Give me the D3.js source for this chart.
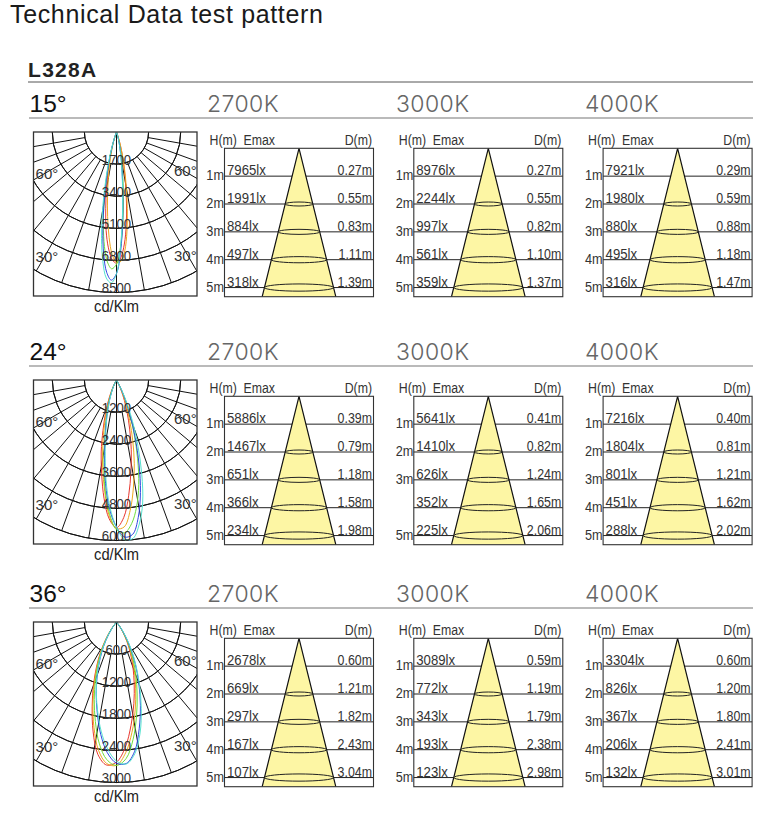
<!DOCTYPE html>
<html>
<head>
<meta charset="utf-8">
<title>Technical Data test pattern</title>
<script src="https://cdn.jsdelivr.net/npm/d3@7"></script>
<style>
    body { margin: 0; background: #fff; }
    svg { display: block; font-family: "Liberation Sans", Arial, sans-serif; }
</style>
</head>
<body>
<div id="chart"></div>
<script>
const colorTemps = ["2700K", "3000K", "4000K"];
const heights = [1, 2, 3, 4, 5];

// Emax (lx) and D (m) per colour temperature
const emax15 = [[7965, 1991, 884, 497, 318], [8976, 2244, 997, 561, 359], [7921, 1980, 880, 495, 316]];
const dist15 = [["0.27", "0.55", "0.83", "1.11", "1.39"], ["0.27", "0.55", "0.82", "1.10", "1.37"], ["0.29", "0.59", "0.88", "1.18", "1.47"]];
const emax24 = [[5886, 1467, 651, 366, 234], [5641, 1410, 626, 352, 225], [7216, 1804, 801, 451, 288]];
const dist24 = [["0.39", "0.79", "1.18", "1.58", "1.98"], ["0.41", "0.82", "1.24", "1.65", "2.06"], ["0.40", "0.81", "1.21", "1.62", "2.02"]];
const emax36 = [[2678, 669, 297, 167, 107], [3089, 772, 343, 193, 123], [3304, 826, 367, 206, 132]];
const dist36 = [["0.60", "1.21", "1.82", "2.43", "3.04"], ["0.59", "1.19", "1.79", "2.38", "2.98"], ["0.60", "1.20", "1.80", "2.41", "3.01"]];

// polar curves, cd/klm
const angles15 = [-20, -18, -16, -14, -12, -10, -8, -6, -4, -2, 0, 2, 4, 6, 8, 10, 12, 14, 16, 18, 20];
const red15 = [0, 420, 850, 1400, 2150, 3050, 4100, 5250, 6150, 6750, 6950, 6650, 5950, 4950, 3800, 2750, 1950, 1250, 750, 360, 0];
const orange15 = [0, 350, 700, 1150, 1750, 2500, 3400, 4500, 5600, 6500, 6900, 6850, 6300, 5300, 4100, 3000, 2100, 1350, 800, 380, 0];
const green15 = [0, 480, 1000, 1700, 2650, 3800, 5000, 6100, 6900, 7250, 7000, 6100, 4800, 3500, 2400, 1600, 1050, 650, 350, 150, 0];
const blue15 = [0, 450, 950, 1650, 2600, 3800, 5200, 6500, 7450, 7850, 7500, 6300, 4700, 3200, 2150, 1400, 900, 550, 300, 130, 0];
const cyan15 = [0, 520, 1100, 1900, 2950, 4300, 5700, 6900, 7750, 8000, 7500, 6100, 4500, 3100, 2050, 1350, 850, 520, 280, 120, 0];

const angles24 = [-30, -27, -24, -21, -18, -15, -12, -9, -6, -3, 0, 3, 6, 9, 12, 15, 18, 21, 24, 27, 30];
const red24 = [0, 220, 500, 880, 1350, 1950, 2750, 3550, 4450, 5200, 5520, 5150, 4350, 3450, 2650, 1900, 1300, 820, 460, 200, 0];
const orange24 = [0, 190, 440, 780, 1200, 1750, 2450, 3300, 4200, 5100, 5550, 5500, 4900, 4050, 3200, 2350, 1600, 1000, 560, 240, 0];
const green24 = [0, 170, 380, 650, 1000, 1450, 2050, 3000, 4100, 5000, 5600, 5720, 5400, 4800, 4000, 3050, 2150, 1400, 800, 350, 0];
const blue24 = [0, 150, 340, 600, 950, 1400, 2000, 2850, 3900, 4850, 5500, 5880, 5800, 5200, 4300, 3250, 2250, 1450, 820, 350, 0];
const cyan24 = [0, 140, 320, 570, 900, 1350, 1900, 2700, 3750, 4750, 5500, 5980, 5950, 5450, 4700, 3650, 2600, 1700, 1000, 450, 0];

const angles36 = [-40, -36, -32, -28, -24, -20, -16, -12, -8, -4, 0, 4, 8, 12, 16, 20, 24, 28, 32, 36, 40];
const red36 = [0, 160, 370, 630, 920, 1260, 1650, 2100, 2500, 2680, 2620, 2350, 1950, 1560, 1200, 900, 640, 420, 230, 90, 0];
const orange36 = [0, 150, 350, 600, 880, 1210, 1600, 2020, 2420, 2650, 2680, 2450, 2080, 1680, 1300, 980, 700, 460, 250, 100, 0];
const green36 = [0, 140, 330, 570, 840, 1150, 1510, 1900, 2300, 2580, 2680, 2560, 2220, 1800, 1400, 1060, 760, 500, 270, 110, 0];
const blue36 = [0, 120, 290, 510, 760, 1050, 1380, 1730, 2120, 2450, 2640, 2650, 2440, 2040, 1620, 1220, 870, 570, 310, 120, 0];
const cyan36 = [0, 120, 300, 530, 780, 1060, 1370, 1700, 2060, 2380, 2600, 2660, 2480, 2120, 1680, 1260, 900, 600, 340, 140, 0];

const ticks15 = [1700, 3400, 5100, 6800, 8500];
const ticks24 = [1200, 2400, 3600, 4800, 6000];
const ticks36 = [600, 1200, 1800, 2400, 3000];

const curveColors = ["#e8372f", "#eda91f", "#6fdf3c", "#2f45e0", "#55e2cf"];

const sections = [
    { label: "15°", offset: 0, angles: angles15, curves: [red15, orange15, green15, blue15, cyan15], ticks: ticks15, emax: emax15, dist: dist15 },
    { label: "24°", offset: 248, angles: angles24, curves: [red24, orange24, green24, blue24, cyan24], ticks: ticks24, emax: emax24, dist: dist24 },
    { label: "36°", offset: 490, angles: angles36, curves: [red36, orange36, green36, blue36, cyan36], ticks: ticks36, emax: emax36, dist: dist36 }
];

const gridAngles = d3.range(-80, 81, 10);

const svg = d3.select("#chart").append("svg").attr("width", 784).attr("height", 821);

svg.append("text").attr("x", 10).attr("y", 23).attr("font-size", 25).attr("letter-spacing", 0.65).attr("fill", "#1a1a1a")
    .text("Technical Data test pattern");
svg.append("text").attr("x", 28).attr("y", 77).attr("font-size", 21).attr("font-weight", "bold")
    .attr("letter-spacing", 1.3).attr("fill", "#222")
    .text("L328A");
svg.append("line").attr("x1", 28).attr("x2", 753).attr("y1", 82).attr("y2", 82).attr("stroke", "#555").attr("stroke-width", 1);

const angleScale = d3.scaleLinear().domain([0, 180]).range([Math.PI, 0]);

// no condensed font installed, so the small labels are squeezed sideways
function squeeze(x, y, factor) {
    return `translate(${x},${y}) scale(${factor},1)`;
}

function drawPolar(g, section, index) {
    const box = { x: 33.5, y: 132, width: 163.5, height: 164 };
    const cx = box.x + 83;
    const radius = d3.scaleLinear().domain([0, section.ticks[4]]).range([0, 160.5]);
    const polar = g.append("g").attr("transform", `translate(${cx},${box.y})`);

    const clipId = "polar-clip-" + index;
    g.append("clipPath").attr("id", clipId).append("rect")
        .attr("x", box.x - cx).attr("y", 0).attr("width", box.width).attr("height", box.height);

    const grid = polar.append("g").attr("clip-path", `url(#${clipId})`);

    const arc = d3.arc().startAngle(Math.PI / 2).endAngle(3 * Math.PI / 2);
    grid.selectAll(".ring").data(section.ticks).enter().append("path")
        .attr("d", d => arc({ innerRadius: radius(d), outerRadius: radius(d) }))
        .attr("fill", "none").attr("stroke", "#111").attr("stroke-width", 1);

    grid.selectAll(".spoke").data(gridAngles).enter().append("line")
        .attr("x1", d => d === 0 ? 0 : radius(section.ticks[0]) * Math.sin(d * Math.PI / 180))
        .attr("y1", d => d === 0 ? 0 : radius(section.ticks[0]) * Math.cos(d * Math.PI / 180))
        .attr("x2", d => radius(section.ticks[4]) * Math.sin(d * Math.PI / 180))
        .attr("y2", d => radius(section.ticks[4]) * Math.cos(d * Math.PI / 180))
        .attr("stroke", "#111").attr("stroke-width", 1);

    const line = d3.lineRadial()
        .angle((d, i) => angleScale(section.angles[i]))
        .radius(d => radius(d))
        .curve(d3.curveCatmullRom);

    section.curves.forEach((curve, i) => {
        polar.append("path").datum(curve)
            .attr("d", line)
            .attr("fill", "none")
            .attr("stroke", curveColors[i])
            .attr("stroke-width", 1);
    });

    g.append("rect").attr("x", box.x).attr("y", box.y).attr("width", box.width).attr("height", box.height)
        .attr("fill", "none").attr("stroke", "#333").attr("stroke-width", 1.3);

    polar.selectAll(".tick-label").data(section.ticks).enter().append("text")
        .attr("transform", d => squeeze(0, radius(d) + 0.5, 0.85))
        .attr("text-anchor", "middle").attr("font-size", 15.5).attr("fill", "#333")
        .text(d => d);

    const angleLabels = [[35.6, 47, "60°"], [174, 44, "60°"], [35.6, 129.5, "30°"], [174, 129, "30°"]];
    angleLabels.forEach(l => {
        g.append("text").attr("x", l[0]).attr("y", box.y + l[1]).attr("font-size", 15).attr("fill", "#333").text(l[2]);
    });

    g.append("text").attr("transform", squeeze(cx, 312, 0.92)).attr("text-anchor", "middle")
        .attr("font-size", 16).attr("fill", "#222").text("cd/Klm");
}

function drawCone(g, section, col) {
    const left = 224.5 + col * 189.3;
    const width = 149;
    const top = 148.3;
    const bottom = 296.7;
    const y = d3.scaleLinear().domain([0, 1]).range([top, top + 27.85]);
    const spread = d3.scaleLinear().domain([top, bottom]).range([0, 36.8]);
    const mid = left + 74.5;
    const ellipseRy = d3.scaleLinear().domain([2, 5]).range([2, 3.6]);
    const isGap = section.label === "24°" && col === 1;

    const header = [[left - 15, "start", "H(m)"], [left + 19, "start", "Emax"], [left + 147.5, "end", "D(m)"]];
    header.forEach(h => {
        g.append("text").attr("transform", squeeze(h[0], 144.5, 0.85)).attr("text-anchor", h[1])
            .attr("font-size", 14.5).attr("fill", "#333").text(h[2]);
    });

    g.selectAll(null).data(heights).enter().append("line")
        .attr("x1", left).attr("x2", left + width)
        .attr("y1", d => y(d)).attr("y2", d => y(d))
        .attr("stroke", "#222").attr("stroke-width", 1);

    g.append("path")
        .attr("d", d3.line()([[mid, top], [mid + spread(bottom), bottom], [mid - spread(bottom), bottom]]))
        .attr("fill", "#fdf6a4").attr("stroke", "none");

    g.append("path")
        .attr("d", d3.line()([[mid - spread(bottom), bottom], [mid, top], [mid + spread(bottom), bottom]]))
        .attr("fill", "none").attr("stroke", "#111").attr("stroke-width", 1.2);

    g.selectAll(null).data(heights.slice(1)).enter().append("ellipse")
        .attr("cx", mid).attr("cy", d => y(d))
        .attr("rx", d => spread(y(d)))
        .attr("ry", d => ellipseRy(d))
        .attr("fill", "none").attr("stroke", "#222").attr("stroke-width", 1);

    g.append("rect").attr("x", left).attr("y", top).attr("width", width).attr("height", bottom - top)
        .attr("fill", "none").attr("stroke", "#333").attr("stroke-width", 1.1);

    // the 3000K table of the 24° block has no 4m label
    g.selectAll(null).data(heights.filter(h => !(isGap && h === 4))).enter().append("text")
        .attr("transform", d => squeeze(left - 0.5, y(d) + 4, 0.82))
        .attr("text-anchor", "end").attr("font-size", 15.5).attr("fill", "#333")
        .text(d => d + "m");

    g.selectAll(null).data(section.emax[col]).enter().append("text")
        .attr("transform", (d, i) => squeeze(left + 2.5, y(heights[i]) - 1, 0.85))
        .attr("font-size", 15.5).attr("fill", "#333")
        .text(d => d + "lx");

    g.selectAll(null).data(section.dist[col]).enter().append("text")
        .attr("transform", (d, i) => squeeze(left + 147.5, y(heights[i]) - 1, 0.8))
        .attr("text-anchor", "end").attr("font-size", 15.5).attr("fill", "#333")
        .text(d => d + "m");
}

sections.forEach((section, index) => {
    const g = svg.append("g").attr("transform", `translate(0,${section.offset})`);

    g.append("text").attr("x", 29.5).attr("y", 112).attr("font-size", 24.5).attr("fill", "#111").text(section.label);
    g.append("line").attr("x1", 29).attr("x2", 753).attr("y1", 118).attr("y2", 118).attr("stroke", "#777").attr("stroke-width", 1.2);

    colorTemps.forEach((temp, col) => {
        g.append("text").attr("x", 207 + col * 189).attr("y", 112)
            .attr("font-family", "Inter, 'Liberation Sans', sans-serif").attr("font-weight", 300)
            .attr("font-size", 23).attr("letter-spacing", 0.4).attr("fill", "#666").text(temp);
        drawCone(g.append("g"), section, col);
    });

    drawPolar(g, section, index);
});
</script>
</body>
</html>
